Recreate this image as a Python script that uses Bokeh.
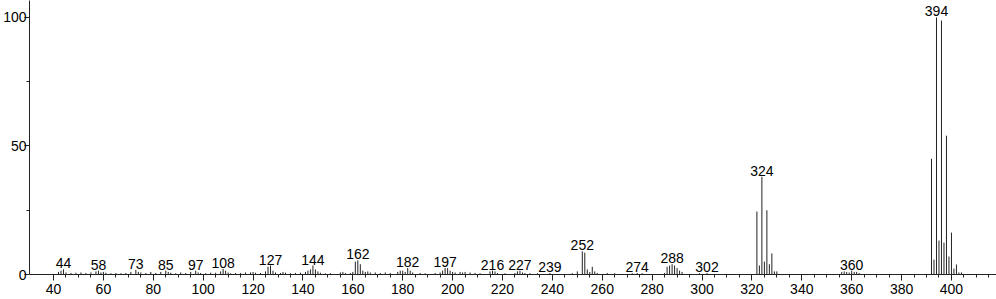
from bokeh.plotting import figure
from bokeh.models import Range1d, FixedTicker, ColumnDataSource
from bokeh.core.properties import value
from bokeh.embed import file_html
from bokeh.resources import INLINE

# m/z values and relative intensities (%)
mz = [42, 43, 44, 45, 47, 49, 51, 53, 55, 57, 58, 59, 60, 61, 63, 65, 67, 69, 71, 73, 74, 75, 77, 79,
      81, 83, 85, 86, 87, 89, 91, 93, 95, 97, 98, 99, 101, 103, 105, 107, 108, 109, 110, 111, 113, 115,
      117, 119, 120, 121, 123, 125, 126, 127, 128, 129, 131, 132, 133, 135, 137, 139, 141, 142, 143, 144,
      145, 146, 147, 149, 151, 155, 156, 157, 159, 160, 161, 162, 163, 164, 165, 166, 167, 169, 171, 173,
      175, 178, 179, 180, 181, 182, 183, 184, 187, 189, 193, 195, 196, 197, 198, 199, 200, 201, 203, 204,
      205, 207, 209, 211, 215, 216, 217, 218, 221, 225, 226, 227, 228, 229, 231, 234, 239, 248, 250, 252,
      253, 254, 255, 256, 257, 258, 262, 265, 272, 274, 276, 285, 286, 287, 288, 289, 290, 291, 292, 299,
      302, 322, 323, 324, 325, 326, 327, 328, 329, 330, 356, 357, 358, 359, 360, 361, 362, 363, 392, 393,
      394, 395, 396, 397, 398, 399, 400, 401, 402, 403, 404]
intensity = [1.0, 1.5, 2.0, 0.8, 0.6, 0.7, 0.8, 0.6, 0.8, 1.2, 1.5, 0.8, 1.0, 0.7, 0.5, 0.6, 0.5, 0.6, 1.0, 1.8,
             1.0, 0.8, 0.6, 1.0, 0.6, 1.0, 1.5, 1.0, 0.7, 0.5, 0.8, 0.6, 1.0, 1.5, 0.8, 0.6, 0.5, 0.7, 0.7, 1.2,
             2.2, 1.5, 0.8, 0.5, 0.6, 0.6, 0.8, 0.8, 1.0, 0.7, 0.6, 1.2, 3.0, 3.5, 1.5, 0.8, 0.6, 1.0, 0.7, 0.5,
             0.6, 0.7, 1.0, 1.5, 2.0, 3.5, 2.0, 1.2, 0.7, 0.5, 0.5, 0.8, 1.0, 0.6, 0.6, 1.0, 5.0, 5.5, 4.0, 1.5,
             1.0, 1.2, 0.8, 0.8, 0.6, 0.8, 0.6, 1.0, 1.5, 1.5, 1.0, 2.5, 1.5, 0.8, 0.6, 0.5, 0.6, 0.8, 1.5, 2.5,
             2.5, 1.5, 1.0, 0.8, 1.0, 0.8, 1.0, 0.8, 0.6, 0.5, 1.2, 1.5, 1.2, 0.6, 0.5, 0.6, 1.2, 1.5, 0.8, 0.6,
             0.5, 0.5, 0.6, 0.5, 1.2, 9.0, 8.5, 2.0, 1.0, 3.0, 1.2, 0.6, 0.6, 0.5, 0.5, 0.6, 0.5, 0.6, 3.0, 3.5,
             4.0, 3.5, 2.5, 1.5, 1.0, 0.5, 0.6, 24.5, 3.5, 38.0, 5.0, 25.0, 4.0, 8.2, 1.2, 1.2, 1.0, 1.2, 1.0,
             0.8, 1.5, 1.0, 1.0, 0.6, 45.0, 5.8, 100.0, 13.2, 98.8, 12.4, 54.0, 7.0, 16.3, 2.3, 3.9, 0.8, 0.8]

# labelled peaks
label_mz = [44, 58, 73, 85, 97, 108, 127, 144, 162, 182, 197, 216, 227, 239, 252, 274, 288, 302, 324, 360, 394]

x_major = list(range(40, 401, 20))
x_minor = list(range(45, 416, 5))
y_major = [0, 50, 100]
y_minor = [25, 75]

lookup = dict(zip(mz, intensity))
label_y = [lookup[m] for m in label_mz]
label_txt = [str(m) for m in label_mz]

p = figure(width=996, height=299, output_backend="svg", toolbar_location=None,
           x_range=Range1d(30.37, 418.06), y_range=Range1d(0, 106.6),
           min_border_left=0, min_border_right=0, min_border_top=0, min_border_bottom=25)
p.outline_line_color = None
p.xgrid.visible = False
p.ygrid.visible = False
p.background_fill_color = "white"
p.border_fill_color = "white"

src = ColumnDataSource(dict(x=mz, y0=[0] * len(mz), y1=intensity))
p.segment(x0="x", y0="y0", x1="x", y1="y1", source=src, line_color="#222222", line_width=1)

lsrc = ColumnDataSource(dict(x=label_mz, y=label_y, t=label_txt))
p.text(x="x", y="y", text="t", source=lsrc, text_align="center", text_baseline="bottom",
       y_offset=-1, text_font=value("Liberation Sans"), text_font_size="14px", text_color="black")

for ax in (p.xaxis[0], p.yaxis[0]):
    ax.axis_line_color = "#222222"
    ax.major_tick_line_color = "#222222"
    ax.minor_tick_line_color = "#222222"
    ax.major_tick_in = 0
    ax.minor_tick_in = 0
    ax.major_label_text_font = "Liberation Sans"
    ax.major_label_text_font_size = "14px"
    ax.major_label_text_color = "black"

p.xaxis.ticker = FixedTicker(ticks=x_major, minor_ticks=x_minor)
p.xaxis.major_tick_out = 6
p.xaxis.minor_tick_out = 3
p.xaxis.major_label_standoff = 3

p.yaxis.ticker = FixedTicker(ticks=y_major, minor_ticks=y_minor)
p.yaxis.major_tick_out = 5
p.yaxis.minor_tick_out = 3
p.yaxis.major_label_standoff = -2

open("out.html", "w").write(file_html(p, INLINE))
